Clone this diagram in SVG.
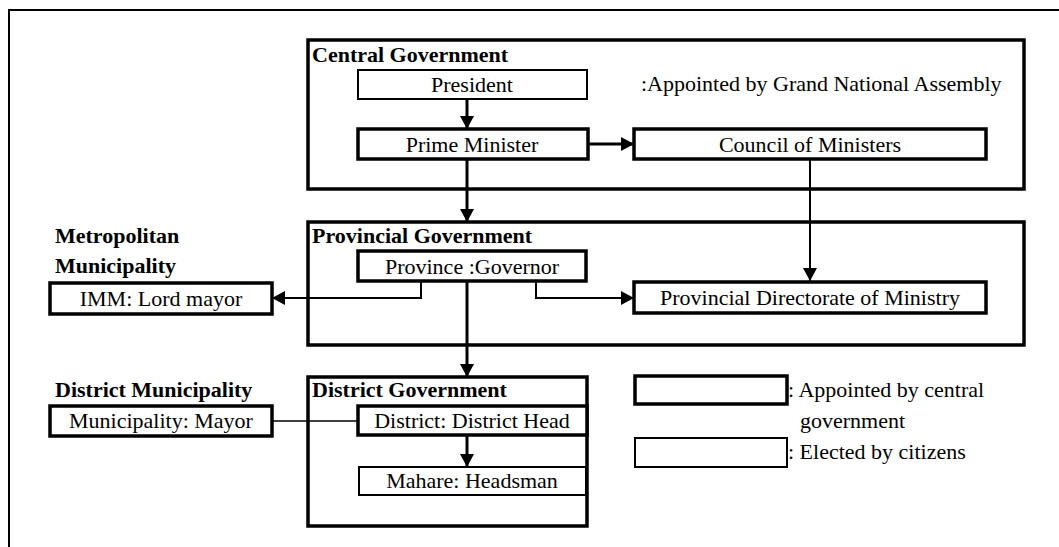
<svg xmlns="http://www.w3.org/2000/svg" width="1059" height="547" viewBox="0 0 1059 547">
<defs>
<marker id="ah" markerWidth="14" markerHeight="14" refX="13" refY="7" orient="auto" markerUnits="userSpaceOnUse">
<path d="M0,0 L13,7 L0,14 Z" fill="#000"/>
</marker>
<style>
.b{font-weight:bold}
.m{text-anchor:middle}
.thick{fill:#fff;stroke:#000;stroke-width:3.5}
.thin{fill:#fff;stroke:#000;stroke-width:2}
.grp{fill:none;stroke:#000;stroke-width:3.5}
.c3{fill:none;stroke:#000;stroke-width:3}
.c2{fill:none;stroke:#000;stroke-width:2}
.c1{fill:none;stroke:#000;stroke-width:1.3}
</style>
</defs>
<rect width="1059" height="547" fill="#fff"/>
<g font-family="Liberation Serif, Times New Roman, DejaVu Serif, serif" font-size="22" fill="#000">
<g id="frame">
<path d="M9,547 V10 H1059" fill="none" stroke="#000" stroke-width="2"/>
</g>
<g id="central-government">
<rect class="grp" x="308" y="40" width="716" height="149"/>
<text class="b" x="312" y="62">Central Government</text>
<text x="641" y="91">:Appointed by Grand National Assembly</text>
</g>
<g id="president">
<rect class="thin" x="358" y="70" width="229" height="29"/>
<text class="m" x="472" y="92">President</text>
</g>
<g id="prime-minister">
<rect class="thick" x="358" y="129" width="230" height="30"/>
<text class="m" x="472" y="152">Prime Minister</text>
</g>
<g id="council-of-ministers">
<rect class="thick" x="634" y="129" width="352" height="30"/>
<text class="m" x="810" y="152">Council of Ministers</text>
</g>
<g id="provincial-government">
<rect class="grp" x="308" y="222" width="716" height="123"/>
<text class="b" x="312" y="243">Provincial Government</text>
</g>
<g id="metropolitan-municipality">
<text class="b" x="55" y="243">Metropolitan</text>
<text class="b" x="55" y="273">Municipality</text>
</g>
<g id="province-governor">
<rect class="thick" x="358" y="251" width="228" height="30"/>
<text class="m" x="472" y="274">Province :Governor</text>
</g>
<g id="imm">
<rect class="thick" x="50" y="283" width="222" height="31"/>
<text class="m" x="161" y="306">IMM: Lord mayor</text>
</g>
<g id="provincial-directorate">
<rect class="thick" x="634" y="282" width="352" height="31"/>
<text class="m" x="810" y="305">Provincial Directorate of Ministry</text>
</g>
<g id="district-government">
<rect class="grp" x="308" y="377" width="279" height="149"/>
<text class="b" x="312" y="397">District Government</text>
</g>
<g id="district-municipality">
<text class="b" x="55" y="397">District Municipality</text>
</g>
<g id="district-head">
<rect class="thick" x="358" y="406" width="229" height="29"/>
<text class="m" x="472" y="428">District: District Head</text>
</g>
<g id="mayor">
<rect class="thick" x="50" y="406" width="222" height="30"/>
<text class="m" x="161" y="428">Municipality: Mayor</text>
</g>
<g id="headsman">
<rect class="thin" x="359" y="467" width="227" height="28"/>
<text class="m" x="472" y="488">Mahare: Headsman</text>
</g>
<g id="legend">
<rect class="thick" x="635" y="376" width="152" height="28"/>
<rect class="thin" x="635" y="438" width="152" height="29"/>
<text x="788" y="397">: Appointed by central</text>
<text x="800" y="428">government</text>
<text x="788" y="459">: Elected by citizens</text>
</g>
</g>
<g id="connectors">
<path class="c3" d="M467,99 V129" marker-end="url(#ah)"/>
<path class="c3" d="M588,144 H634" marker-end="url(#ah)"/>
<path class="c3" d="M467,160 V222" marker-end="url(#ah)"/>
<path class="c2" d="M810,158 V281" marker-end="url(#ah)"/>
<path class="c2" d="M421,282 V298 H272" marker-end="url(#ah)"/>
<path class="c2" d="M536,282 V298 H634" marker-end="url(#ah)"/>
<path class="c3" d="M467,282 V377" marker-end="url(#ah)"/>
<path class="c3" d="M467,435 V467" marker-end="url(#ah)"/>
<path class="c1" d="M272,421 H358"/>
</g>
</svg>
